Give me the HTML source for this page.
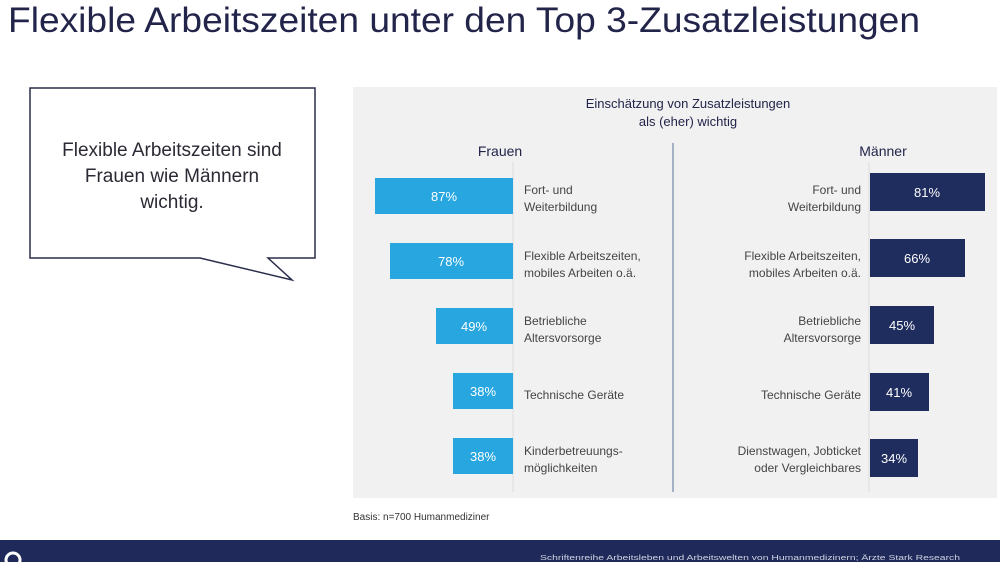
<!DOCTYPE html>
<html><head><meta charset="utf-8"><style>
body{margin:0;width:1000px;height:562px;background:#fff;overflow:hidden;font-family:"Liberation Sans",sans-serif}
</style></head><body>
<svg width="1000" height="562" viewBox="0 0 1000 562" xmlns="http://www.w3.org/2000/svg" font-family="Liberation Sans, sans-serif">
<text x="8" y="32" font-size="35" fill="#22244a" textLength="912" lengthAdjust="spacingAndGlyphs">Flexible Arbeitszeiten unter den Top 3-Zusatzleistungen</text>
<path d="M30,88 H315 V258 H268 L292,280 L200,258 H30 Z" fill="#fff" stroke="#2a2d4a" stroke-width="1.5"/>
<g font-size="19" fill="#2a2a35" text-anchor="middle">
<text x="172" y="156">Flexible Arbeitszeiten sind</text>
<text x="172" y="182">Frauen wie Männern</text>
<text x="172" y="208">wichtig.</text>
</g>
<rect x="353" y="87" width="644" height="411" fill="#f1f1f1"/>
<g font-size="13" fill="#22244a" text-anchor="middle">
<text x="688" y="108">Einschätzung von Zusatzleistungen</text>
<text x="688" y="126">als (eher) wichtig</text>
</g>
<text x="500" y="156" font-size="14" fill="#22244a" text-anchor="middle">Frauen</text>
<text x="883" y="156" font-size="14" fill="#22244a" text-anchor="middle">Männer</text>
<line x1="673" y1="143" x2="673" y2="492" stroke="#8a9bb8" stroke-width="1.5"/>
<line x1="513" y1="162" x2="513" y2="492" stroke="#ddd" stroke-width="1"/>
<line x1="869" y1="162" x2="869" y2="492" stroke="#ddd" stroke-width="1"/>
<g fill="#27a6df">
<rect x="375" y="178" width="138" height="36"/>
<rect x="390" y="243" width="123" height="36"/>
<rect x="436" y="308" width="77" height="36"/>
<rect x="453" y="373" width="60" height="36"/>
<rect x="453" y="438" width="60" height="36"/>
</g>
<g fill="#1f2c5e">
<rect x="870" y="173" width="115" height="38"/>
<rect x="870" y="239" width="95" height="38"/>
<rect x="870" y="306" width="64" height="38"/>
<rect x="870" y="373" width="59" height="38"/>
<rect x="870" y="439" width="48" height="38"/>
</g>
<g font-size="13" fill="#fff" text-anchor="middle">
<text x="444" y="201">87%</text>
<text x="451" y="266">78%</text>
<text x="474" y="331">49%</text>
<text x="483" y="396">38%</text>
<text x="483" y="461">38%</text>
<text x="927" y="197">81%</text>
<text x="917" y="263">66%</text>
<text x="902" y="330">45%</text>
<text x="899" y="397">41%</text>
<text x="894" y="463">34%</text>
</g>
<g font-size="12" fill="#444">
<text x="524" y="194">Fort- und</text><text x="524" y="211">Weiterbildung</text>
<text x="524" y="260">Flexible Arbeitszeiten,</text><text x="524" y="277">mobiles Arbeiten o.ä.</text>
<text x="524" y="325">Betriebliche</text><text x="524" y="342">Altersvorsorge</text>
<text x="524" y="399">Technische Geräte</text>
<text x="524" y="455">Kinderbetreuungs-</text><text x="524" y="472">möglichkeiten</text>
</g>
<g font-size="12" fill="#444" text-anchor="end">
<text x="861" y="194">Fort- und</text><text x="861" y="211">Weiterbildung</text>
<text x="861" y="260">Flexible Arbeitszeiten,</text><text x="861" y="277">mobiles Arbeiten o.ä.</text>
<text x="861" y="325">Betriebliche</text><text x="861" y="342">Altersvorsorge</text>
<text x="861" y="399">Technische Geräte</text>
<text x="861" y="455">Dienstwagen, Jobticket</text><text x="861" y="472">oder Vergleichbares</text>
</g>
<text x="353" y="520" font-size="10" fill="#333">Basis: n=700 Humanmediziner</text>
<rect x="0" y="540" width="1000" height="22" fill="#1f2a5a"/>
<circle cx="13" cy="560" r="7" fill="none" stroke="#fff" stroke-width="3"/>
<text x="540" y="560" font-size="7" fill="#cfd3e2" textLength="420" lengthAdjust="spacingAndGlyphs">Schriftenreihe Arbeitsleben und Arbeitswelten von Humanmedizinern; Ärzte Stark Research</text>
</svg>
</body></html>
